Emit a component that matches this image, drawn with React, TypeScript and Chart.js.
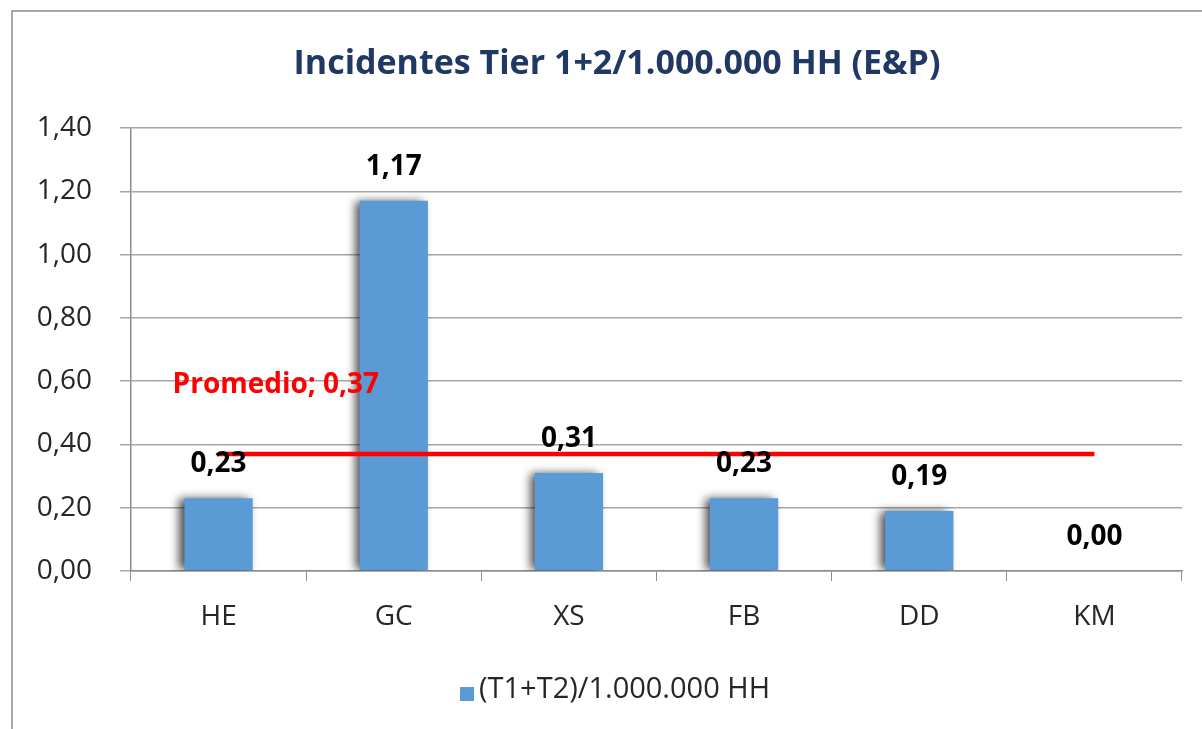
import React, { useEffect, useRef } from "react";
import { Chart, registerables } from "chart.js";

Chart.register(...registerables);

const titleText = "Incidentes Tier 1+2/1.000.000 HH (E&P)";
const categories = ["HE", "GC", "XS", "FB", "DD", "KM"];
const seriesLabel = "(T1+T2)/1.000.000 HH";
const seriesValues = [0.23, 1.17, 0.31, 0.23, 0.19, 0.0];
const averageLabel = "Promedio";
const averageValue = 0.37;
const averageValues = categories.map(() => averageValue);
const yMin = 0;
const yMax = 1.4;
const yStep = 0.2;

const FONT = "'Open Sans', 'Liberation Sans', sans-serif";
const BAR_COLOR = "#5B9BD5";
const TITLE_COLOR = "#1F3864";
const TEXT_COLOR = "#262626";

const fmt = (v: number) => v.toFixed(2).replace(".", ",");

const framePlugin = {
  id: "frame",
  beforeDraw(chart: any) {
    const ctx = chart.ctx;
    ctx.save();
    ctx.fillStyle = "#ffffff";
    ctx.fillRect(0, 0, chart.width, chart.height);
    ctx.strokeStyle = "#8c8c8c";
    ctx.lineWidth = 1.5;
    ctx.strokeRect(12, 11, chart.width + 50, chart.height + 50);
    ctx.fillStyle = TITLE_COLOR;
    ctx.font = `bold 34px ${FONT}`;
    ctx.textAlign = "center";
    ctx.textBaseline = "alphabetic";
    ctx.fillText(titleText, 617, 74);
    ctx.restore();
  },
};

const shadowPlugin = {
  id: "barShadow",
  beforeDatasetDraw(chart: any, args: any) {
    if (args.meta.type !== "bar") return;
    const ctx = chart.ctx;
    ctx.save();
    ctx.shadowColor = "rgba(0,0,0,0.7)";
    ctx.shadowBlur = 9;
    ctx.shadowOffsetX = -5;
    ctx.shadowOffsetY = 0;
  },
  afterDatasetDraw(chart: any, args: any) {
    if (args.meta.type !== "bar") return;
    chart.ctx.restore();
  },
};

const labelPlugin = {
  id: "valueLabels",
  afterDatasetsDraw(chart: any) {
    const ctx = chart.ctx;
    ctx.save();
    chart.data.datasets.forEach((ds: any, i: number) => {
      const meta = chart.getDatasetMeta(i);
      if (meta.type === "bar") {
        ctx.fillStyle = "#000000";
        ctx.font = `bold 28px ${FONT}`;
        ctx.textAlign = "center";
        ctx.textBaseline = "middle";
        meta.data.forEach((el: any, j: number) => {
          ctx.fillText(fmt(ds.data[j]), el.x, el.y - 34);
        });
      } else if (meta.type === "line") {
        const p = meta.data[0];
        ctx.fillStyle = "#FF0000";
        ctx.font = `bold 28px ${FONT}`;
        ctx.textAlign = "left";
        ctx.textBaseline = "middle";
        ctx.fillText(`${averageLabel}; ${fmt(ds.data[0])}`, p.x - 46, p.y - 69);
      }
    });
    // legend
    ctx.fillStyle = BAR_COLOR;
    ctx.fillRect(460, 687, 14, 14);
    ctx.fillStyle = TEXT_COLOR;
    ctx.font = `29px ${FONT}`;
    ctx.textAlign = "left";
    ctx.textBaseline = "middle";
    ctx.fillText(seriesLabel, 479, 690);
    ctx.restore();
  },
};

export default function App() {
  const ref = useRef<HTMLCanvasElement | null>(null);

  useEffect(() => {
    if (!ref.current) return;
    const chart = new Chart(ref.current, {
      type: "bar",
      data: {
        labels: categories,
        datasets: [
          {
            type: "bar",
            label: seriesLabel,
            data: seriesValues,
            backgroundColor: BAR_COLOR,
            borderWidth: 0,
            barPercentage: 0.39,
            categoryPercentage: 1,
            order: 1,
          },
          {
            type: "line",
            label: averageLabel,
            data: averageValues,
            borderColor: "#FF0000",
            borderWidth: 4.5,
            pointRadius: 0,
            fill: false,
            order: 0,
          } as any,
        ],
      },
      options: {
        responsive: false,
        animation: false,
        devicePixelRatio: 1,
        layout: { padding: { left: 12, right: 20, top: 128, bottom: 60 } },
        plugins: {
          legend: { display: false },
          title: { display: false },
          tooltip: { enabled: false },
        },
        scales: {
          x: {
            offset: true,
            grid: {
              offset: true,
              drawOnChartArea: false,
              drawTicks: true,
              tickLength: 10,
              color: "#8c8c8c",
            },
            border: { color: "#8c8c8c", width: 1.5 },
            ticks: {
              font: { family: FONT, size: 28 },
              color: TEXT_COLOR,
              padding: 19,
            },
            afterFit: (s: any) => {
              s.height = 98;
            },
          },
          y: {
            min: yMin,
            max: yMax,
            ticks: {
              stepSize: yStep,
              callback: (v: any) => fmt(Number(v)),
              font: { family: FONT, size: 28 },
              color: TEXT_COLOR,
              padding: 28,
            },
            grid: { color: "#a6a6a6", lineWidth: 1.5, tickLength: 11 },
            border: { color: "#8c8c8c", width: 1.5 },
            afterFit: (s: any) => {
              s.width = 119;
            },
          },
        },
      },
      plugins: [framePlugin, shadowPlugin, labelPlugin],
    });
    return () => chart.destroy();
  }, []);

  return (
    <div style={{ position: "fixed", left: 0, top: 0, width: 1202, height: 729, background: "#fff" }}>
      <canvas ref={ref} width={1202} height={729} style={{ display: "block" }} />
    </div>
  );
}
